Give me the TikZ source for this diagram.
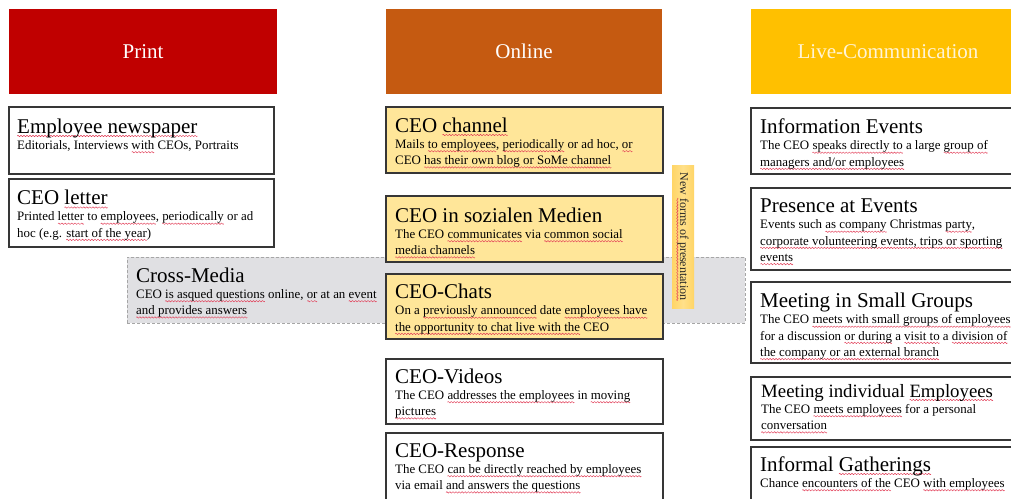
\documentclass[tikz,border=0pt]{standalone}
\usepackage{fontspec}
\setmainfont{Liberation Serif}

\definecolor{printred}{HTML}{C00000}
\definecolor{onlineorange}{HTML}{C55A11}
\definecolor{livegold}{HTML}{FFC000}
\definecolor{livetext}{HTML}{FFF4D6}
\definecolor{cardfill}{HTML}{FFE699}
\definecolor{stripfill}{HTML}{FFE08A}
\definecolor{stripedge}{HTML}{FFD566}
\definecolor{crossgray}{HTML}{E0E0E3}
\definecolor{dashgray}{HTML}{A6A6A6}
\definecolor{edge}{HTML}{363636}
\definecolor{spell}{HTML}{E23B55}

% red wavy proofing underline, built from a repeated zigzag tile
\newsavebox\wavebox
\sbox\wavebox{\begin{tikzpicture}
  \useasboundingbox (0,0) rectangle (3pt,0pt);
  \draw[spell, line width=0.45pt, line join=round]
    (0,0) -- (0.75pt,0.75pt) -- (2.25pt,-0.75pt) -- (3pt,0);
\end{tikzpicture}}
\newsavebox\sqbox
\newcommand\sq[1]{\sbox\sqbox{#1}\leavevmode
  \rlap{\lower2.8pt\hbox to\wd\sqbox{\xleaders\copy\wavebox\hfil}}\usebox\sqbox}

\newcommand\ttlfont{\fontsize{21}{16.3}\selectfont}
\newcommand\bdyfont{\fontsize{12.9}{16.2}\selectfont}
\newcommand\hdfont{\fontsize{21}{24}\selectfont}
\newcommand\ttl[1]{\noindent\ttlfont\rule{0pt}{15pt}#1\par\noindent\bdyfont}
\newcommand\smallttl[1]{\noindent\fontsize{18.8}{16.3}\selectfont\rule{0pt}{15pt}#1\par\noindent\bdyfont}

\tikzset{
  header/.style={rectangle, anchor=north west, inner sep=0, outer sep=0,
    minimum height=85, font=\hdfont, text=white},
  card/.style={rectangle, draw=edge, line width=1.1pt, anchor=north west,
    inner sep=0, outer sep=0, fill=white},
  onlinecard/.style={card, fill=cardfill},
  cardtext/.style={anchor=north west, inner sep=0, text width=300pt,
    align=flush left, font=\bdyfont, text=black},
  crossbox/.style={rectangle, anchor=north west, inner sep=0, outer sep=0,
    fill=crossgray, draw=dashgray, line width=0.8pt, dash pattern=on 3pt off 2pt},
  strip/.style={rectangle, inner sep=0, outer sep=0,
    left color=stripedge, right color=stripedge, middle color=stripfill,
    font=\fontsize{12}{14}\selectfont, text=black!85},
}

\begin{document}
\begin{tikzpicture}[x=1pt, y=-1pt]
\useasboundingbox (0,0) rectangle (1011,498);
\begin{scope}
\clip (0,0) rectangle (1011,498);
\fill[white] (0,0) rectangle (1011,498);

% column headers
\node[header, fill=printred, minimum width=268] (print) at (9,9) {Print};
\node[header, fill=onlineorange, minimum width=276] (online) at (386,9) {Online};
\node[header, fill=livegold, minimum width=274, text=livetext] (live) at (751,9) {Live-Communication};

% cross-media band behind the online column
\node[crossbox, minimum width=618, minimum height=66] (cross) at (127,257) {};
\node[cardtext] (cross-t) at ([xshift=9pt,yshift=-10pt]cross.north west)
  {\ttl{Cross-Media}CEO \sq{is asqued questions} online, \sq{or} at an \sq{event}\\\sq{and provides answers}};

% print column
\node[card, minimum width=265, minimum height=67] (newspaper) at (9,107) {};
\node[cardtext] (newspaper-t) at ([xshift=8pt,yshift=-11pt]newspaper.north west)
  {\ttl{\sq{Employee newspaper}}Editorials, Interviews \sq{with} CEOs, Portraits};

\node[card, minimum width=265, minimum height=68] (letter) at (9,179) {};
\node[cardtext] (letter-t) at ([xshift=8pt,yshift=-10.5pt]letter.north west)
  {\ttl{CEO \sq{letter}}Printed \sq{letter} to \sq{employees}, \sq{periodically} or ad\\hoc (e.g. \sq{start of the year})};

% online column
\node[onlinecard, minimum width=277, minimum height=66] (channel) at (386,107) {};
\node[cardtext] (channel-t) at ([xshift=9pt,yshift=-10pt]channel.north west)
  {\ttl{CEO \sq{channel}}Mails \sq{to employees}, \sq{periodically} or ad hoc, \sq{or}\\CEO \sq{has their own blog or SoMe channel}};

\node[onlinecard, minimum width=277, minimum height=66] (social) at (386,196) {};
\node[cardtext] (social-t) at ([xshift=9pt,yshift=-11pt]social.north west)
  {\ttl{CEO in sozialen Medien}The CEO \sq{communicates} via \sq{common social}\\\sq{media channels}};

\node[onlinecard, minimum width=277, minimum height=65] (chats) at (386,274) {};
\node[cardtext] (chats-t) at ([xshift=9pt,yshift=-9.5pt]chats.north west)
  {\ttl{CEO-Chats}On a \sq{previously announced} date \sq{employees have}\\\sq{the opportunity to chat live with the} CEO};

\node[card, minimum width=277, minimum height=65] (videos) at (386,359) {};
\node[cardtext] (videos-t) at ([xshift=9pt,yshift=-9pt]videos.north west)
  {\ttl{CEO-Videos}The CEO \sq{addresses the employees} in \sq{moving}\\\sq{pictures}};

\node[card, minimum width=277, minimum height=80] (response) at (386,433) {};
\node[cardtext] (response-t) at ([xshift=9pt,yshift=-9pt]response.north west)
  {\ttl{CEO-Response}The CEO \sq{can be directly reached by employees}\\via email \sq{and answers the questions}};

% vertical label beside the online column
\node[strip, rotate=-90, minimum width=143, minimum height=22] (newforms) at (683,236.5)
  {New \sq{forms of presentation}};

% live-communication column
\node[card, minimum width=275, minimum height=66] (info) at (751,108) {};
\node[cardtext] (info-t) at ([xshift=9pt,yshift=-10.5pt]info.north west)
  {\ttl{Information Events}The CEO \sq{speaks directly to} a large \sq{group of}\\\sq{managers and/or employees}};

\node[card, minimum width=275, minimum height=82] (presence) at (751,188) {};
\node[cardtext] (presence-t) at ([xshift=9pt,yshift=-9.5pt]presence.north west)
  {\ttl{Presence at Events}Events such \sq{as company} Christmas \sq{party},\\\sq{corporate volunteering events, trips or sporting}\\\sq{events}};

\node[card, minimum width=275, minimum height=81] (smallgroups) at (751,282) {};
\node[cardtext] (smallgroups-t) at ([xshift=9pt,yshift=-10.5pt]smallgroups.north west)
  {\ttl{Meeting in Small Groups}The CEO \sq{meets with small groups of employees}\\for a discussion \sq{or during} a \sq{visit to} a \sq{division of}\\\sq{the company or an external branch}};

\node[card, minimum width=275, minimum height=63] (individual) at (751,377) {};
\node[cardtext] (individual-t) at ([xshift=10pt,yshift=-5pt]individual.north west)
  {\smallttl{Meeting individual \sq{Employees}}The CEO \sq{meets employees} for a personal\\\sq{conversation}};

\node[card, minimum width=275, minimum height=70] (informal) at (751,447) {};
\node[cardtext] (informal-t) at ([xshift=9pt,yshift=-9pt]informal.north west)
  {\ttl{Informal \sq{Gatherings}}Chance \sq{encounters of the} CEO \sq{with employees}};
\end{scope}
\end{tikzpicture}
\end{document}
